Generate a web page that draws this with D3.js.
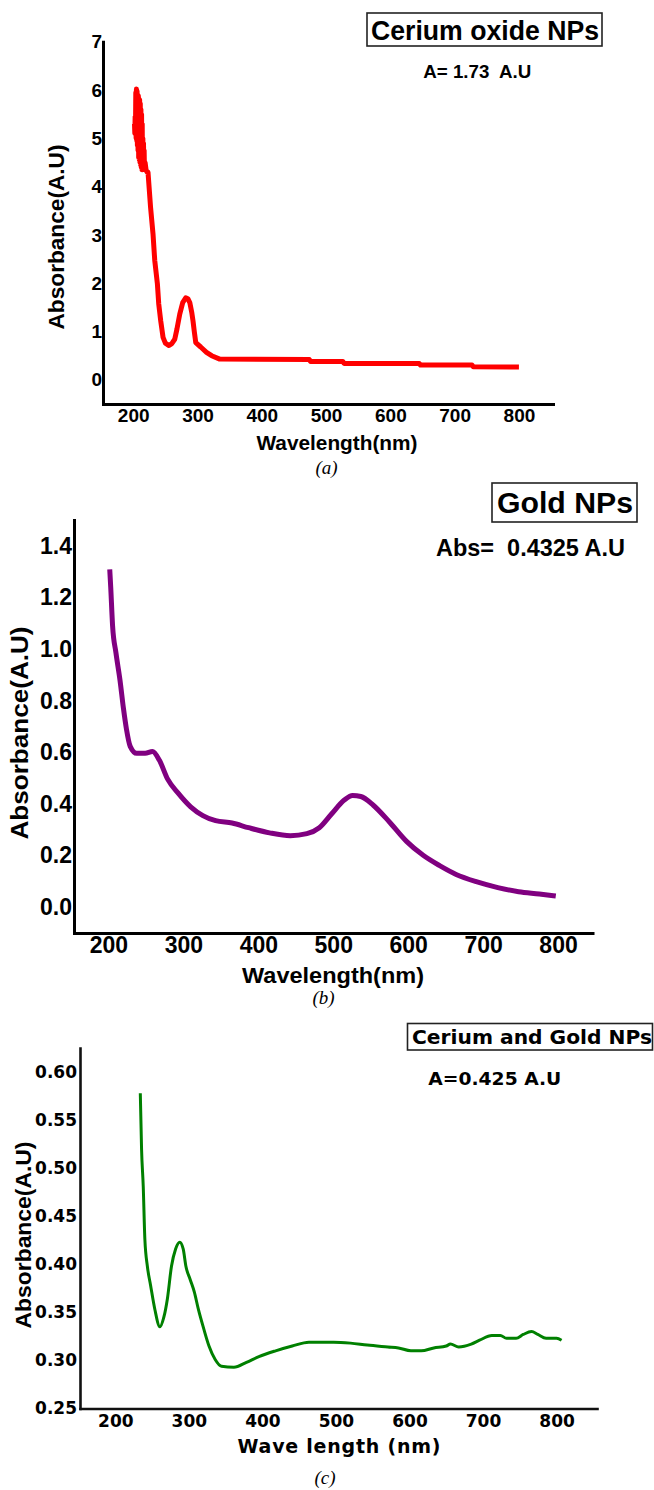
<!doctype html>
<html>
<head>
<meta charset="utf-8">
<style>
  body { margin: 0; background: #fff; }
  text { white-space: pre; }
</style>
</head>
<body>

<div id="container"></div>

<script src="https://d3js.org/d3.v7.min.js"></script>
<script type="text/javascript">

    // ---- data ----
    var wlTicks = [200, 300, 400, 500, 600, 700, 800];

    // (a) cerium oxide NPs
    var ceriaWl = [202, 202.5, 203, 203.5, 204, 204.5, 205, 205.5, 206, 206.5, 207, 207.5, 208, 208.5, 209, 209.5, 210, 210.5, 211, 211.5, 212, 212.5, 213, 213.5,
        214, 214.5, 215, 215.5, 216, 216.5, 217, 217.5, 218.5, 220, 221.5, 223,
        227, 230.8, 233.5, 237.6, 239.7, 242.8, 246.4, 250, 255.7, 260, 264.6, 268, 272.4, 277, 281.7, 285, 288, 291, 293, 295, 297.3, 305, 314, 322, 334.6,
        474, 476, 526, 528, 645, 647, 727, 729, 800];
    var ceriaAbs = [5.3, 5.1, 5.45, 5.12, 5.95, 5.0, 6.02, 4.95, 5.98, 4.85, 5.9, 4.75, 5.88, 4.6, 5.82, 4.55, 5.8, 4.5, 5.72, 4.45, 5.6, 4.4, 5.5, 4.35,
        5.3, 4.35, 5.0, 4.4, 4.9, 4.45, 4.75, 4.35, 4.5, 4.35, 4.3, 4.3,
        3.57, 3.02, 2.47, 1.99, 1.57, 1.22, 0.88, 0.76, 0.71, 0.75, 0.84, 1.05, 1.36, 1.6, 1.70, 1.68, 1.60, 1.4, 1.22, 1.0, 0.77, 0.68, 0.57, 0.5, 0.43,
        0.42, 0.38, 0.38, 0.34, 0.34, 0.305, 0.305, 0.27, 0.265];
    var ceriaTicks = [0, 1, 2, 3, 4, 5, 6, 7];

    // (b) gold NPs
    var goldWl = [201.7, 203, 205.5, 210, 215.5, 220, 224, 229, 237.7, 249, 258.7, 268, 279, 293, 309.7, 326, 343, 365, 387, 415, 442.7, 464.8,
        481.4, 498, 514.7, 525.8, 536.8, 553.5, 575.6, 597.8, 620, 642, 664, 692, 719.7, 747.4, 775, 797];
    var goldAbs = [1.309, 1.24, 1.09, 0.985, 0.877, 0.77, 0.69, 0.623, 0.596, 0.596, 0.603, 0.569, 0.496, 0.442, 0.389, 0.355, 0.335, 0.326, 0.308, 0.288, 0.277, 0.285,
        0.308, 0.362, 0.415, 0.433, 0.429, 0.395, 0.328, 0.255, 0.201, 0.161, 0.127, 0.098, 0.076, 0.06, 0.051, 0.043];
    var goldTicks = [0, 0.2, 0.4, 0.6, 0.8, 1.0, 1.2, 1.4];

    // (c) cerium and gold NPs
    var mixWl = [234, 235.7, 238, 240.2, 243.6, 248, 253.8, 260.6, 266, 270.8, 276.4, 282, 287.7, 292.3, 296, 301.9, 307.5, 313, 320.6, 327.4, 335.8, 344.3,
        361.3, 378.3, 395.3, 418, 440.6, 463.2, 497, 519.8, 542.5, 570.7, 585, 602, 616, 633, 650, 655.7, 667, 684, 695.3, 712, 723.6, 732, 745, 754.7,
        766, 774.5, 785.8, 800, 806.8];
    var mixAbs = [0.578, 0.52, 0.481, 0.426, 0.398, 0.378, 0.353, 0.335, 0.345, 0.364, 0.398, 0.416, 0.423, 0.416, 0.398, 0.384, 0.371, 0.353, 0.332, 0.315, 0.301, 0.294,
        0.293, 0.298, 0.304, 0.31, 0.315, 0.319, 0.319, 0.318, 0.316, 0.314, 0.313, 0.31, 0.31, 0.313, 0.315, 0.317, 0.314, 0.317, 0.321, 0.326, 0.326, 0.323, 0.323, 0.327,
        0.33, 0.327, 0.323, 0.323, 0.321];
    var mixTicks = [0.25, 0.30, 0.35, 0.40, 0.45, 0.50, 0.55, 0.60];

    var arial = "'Liberation Sans', Arial, sans-serif";
    var verdana = "'DejaVu Sans', Verdana, sans-serif";
    var serif = "'Liberation Serif', 'Times New Roman', serif";

    var svg = d3.select("#container").append("svg")
        .attr("width", 654)
        .attr("height", 1490);

    function label(x, y, txt, o) {
        var t = svg.append("text")
            .attr("x", x)
            .attr("y", y)
            .attr("font-family", o.font || arial)
            .attr("font-size", o.size)
            .attr("font-weight", o.italic ? "normal" : "bold")
            .attr("font-style", o.italic ? "italic" : "normal")
            .attr("text-anchor", o.anchor || "start")
            .attr("fill", "#000")
            .text(txt);
        if (o.len) t.attr("textLength", o.len).attr("lengthAdjust", o.adjust || "spacingAndGlyphs");
        if (o.rotate) {
            t.attr("x", null).attr("y", null)
                .attr("dy", "0.35em")
                .attr("transform", "translate(" + x + "," + y + ") rotate(-90)");
        }
        return t;
    }

    function panel(p) {
        var x = d3.scaleLinear().domain(p.xDomain).range(p.xRange);
        var y = d3.scaleLinear().domain(p.yDomain).range(p.yRange);

        var xg = svg.append("g")
            .attr("transform", "translate(0," + p.yRange[0] + ")")
            .call(d3.axisBottom(x).tickValues(wlTicks).tickSize(0).tickSizeOuter(0));
        xg.select(".domain").attr("stroke", p.axisColor).attr("stroke-width", p.axisWidth).attr("stroke-linecap", "square");
        xg.selectAll("text")
            .attr("font-family", p.tickFont)
            .attr("font-size", p.tickSize)
            .attr("font-weight", "bold")
            .attr("fill", "#000")
            .attr("dy", null)
            .attr("y", p.xTickY);

        var yg = svg.append("g")
            .attr("transform", "translate(" + p.xRange[0] + ",0)")
            .call(d3.axisLeft(y).tickValues(p.yTicks).tickFormat(d3.format(p.yFormat)).tickSize(0).tickSizeOuter(0).tickPadding(p.yPad));
        yg.select(".domain").attr("stroke", p.axisColor).attr("stroke-width", p.axisWidth).attr("stroke-linecap", "square");
        yg.selectAll("text")
            .attr("font-family", p.tickFont)
            .attr("font-size", p.tickSize)
            .attr("font-weight", "bold")
            .attr("fill", "#000");

        var line = d3.line()
            .curve(p.curve)
            .x(function (d) { return x(d[0]); })
            .y(function (d) { return y(d[1]); });

        svg.append("path")
            .datum(d3.zip(p.wl, p.abs))
            .attr("d", line)
            .attr("fill", "none")
            .attr("stroke", p.color)
            .attr("stroke-width", p.lineWidth)
            .attr("stroke-linejoin", "round");
    }

    // ---- (a) ----
    panel({
        xDomain: [153, 853], xRange: [103, 553],
        yDomain: [-0.5, 7], yRange: [404, 41.7],
        yTicks: ceriaTicks, yFormat: "d", yPad: 1,
        tickFont: arial, tickSize: 19, xTickY: 18,
        axisColor: "#000", axisWidth: 3,
        wl: ceriaWl, abs: ceriaAbs, color: "#ff0000", lineWidth: 5, curve: d3.curveLinear
    });
    svg.append("rect").attr("x", 367).attr("y", 13).attr("width", 235).attr("height", 33)
        .attr("fill", "none").attr("stroke", "#222").attr("stroke-width", 1.6);
    label(371, 40, "Cerium oxide NPs", {size: 27, len: 228});
    label(423.3, 78.3, "A= 1.73  A.U", {size: 18, len: 108});
    label(56, 237, "Absorbance(A.U)", {size: 22, len: 185, anchor: "middle", rotate: true});
    label(337, 449.5, "Wavelength(nm)", {size: 20, len: 161, anchor: "middle"});
    label(326.6, 473.5, "(a)", {size: 19, italic: true, font: serif, anchor: "middle"});

    // ---- (b) ----
    panel({
        xDomain: [154, 846], xRange: [74, 592.5],
        yDomain: [-0.1, 1.5], yRange: [933, 520],
        yTicks: goldTicks, yFormat: ".1f", yPad: 2,
        tickFont: arial, tickSize: 23, xTickY: 20,
        axisColor: "#000", axisWidth: 3,
        wl: goldWl, abs: goldAbs, color: "#800080", lineWidth: 5, curve: d3.curveMonotoneX
    });
    svg.append("rect").attr("x", 492).attr("y", 483).attr("width", 145).attr("height", 39)
        .attr("fill", "none").attr("stroke", "#222").attr("stroke-width", 1.6);
    label(497, 513, "Gold NPs", {size: 29, len: 136});
    label(436, 556, "Abs=  0.4325 A.U", {size: 24, len: 189});
    label(20, 733, "Absorbance(A.U)", {size: 24, len: 213, anchor: "middle", rotate: true});
    label(333, 983, "Wavelength(nm)", {size: 22, len: 182, anchor: "middle"});
    label(323.6, 1004, "(b)", {size: 19, italic: true, font: serif, anchor: "middle"});

    // ---- (c) ----
    panel({
        xDomain: [152, 855], xRange: [80, 597],
        yDomain: [0.25, 0.625], yRange: [1408.5, 1048],
        yTicks: mixTicks, yFormat: ".2f", yPad: 3,
        tickFont: verdana, tickSize: 17, xTickY: 18.5,
        axisColor: "#111", axisWidth: 2.6,
        wl: mixWl, abs: mixAbs, color: "#008000", lineWidth: 3, curve: d3.curveMonotoneX
    });
    svg.append("rect").attr("x", 407.5).attr("y", 1023.5).attr("width", 245).attr("height", 26.5)
        .attr("fill", "none").attr("stroke", "#222").attr("stroke-width", 1.6);
    label(412, 1043.5, "Cerium and Gold NPs", {size: 19, len: 240, font: verdana});
    label(428.3, 1085, "A=0.425 A.U", {size: 18, len: 133, font: verdana});
    label(23, 1235, "Absorbance(A.U)", {size: 22, len: 187, anchor: "middle", rotate: true});
    label(339, 1452.5, "Wave length (nm)", {size: 19, len: 203, font: verdana, anchor: "middle", adjust: "spacing"});
    label(325, 1484, "(c)", {size: 19, italic: true, font: serif, anchor: "middle"});

</script>
</body>
</html>
